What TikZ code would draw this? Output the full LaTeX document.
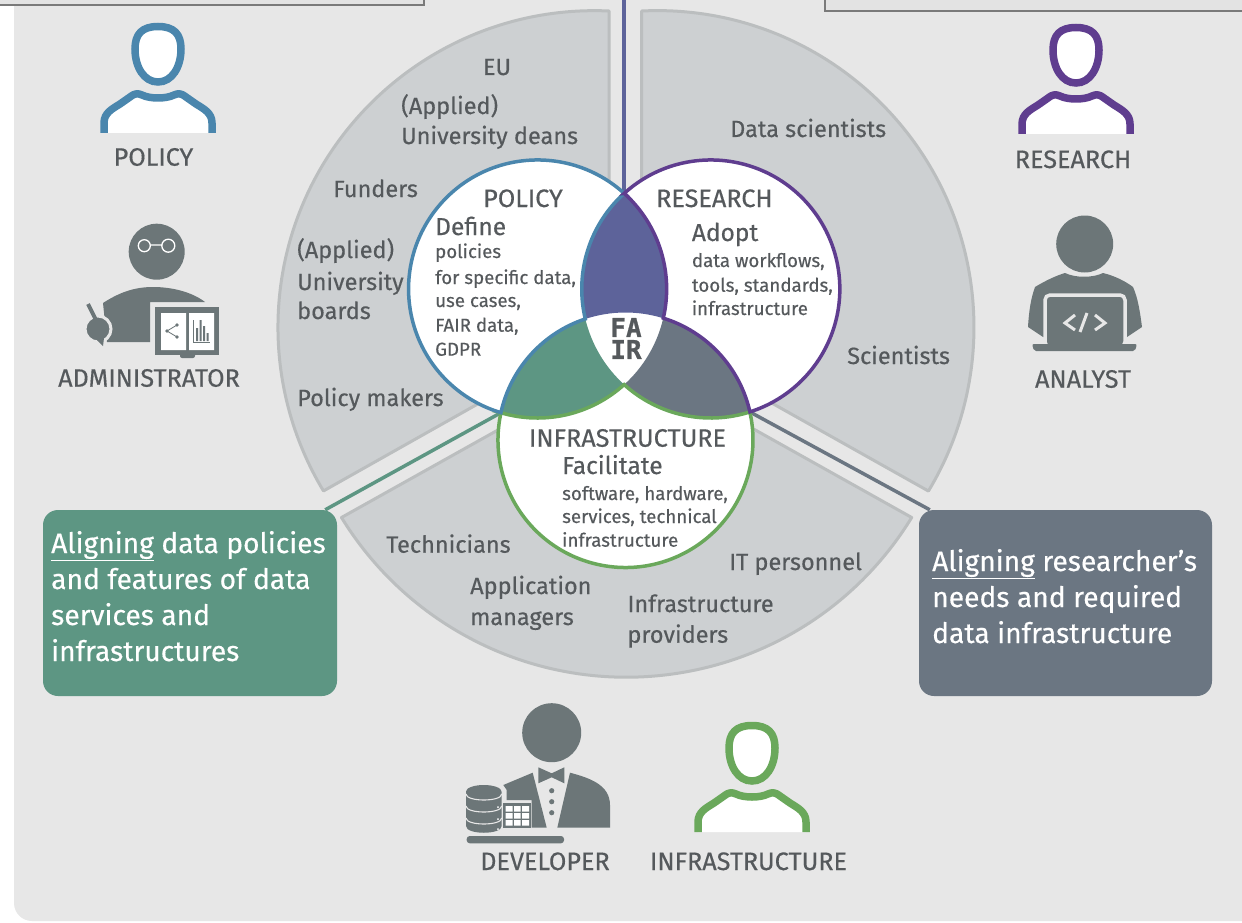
\documentclass[tikz,border=0pt]{standalone}
\usepackage{fontspec}
\setmainfont{Fira Sans}[FakeBold=0.4]
\newfontfamily\fairfont{DejaVu Sans Mono Bold}[FakeBold=0.8]
\usetikzlibrary{calc}
\definecolor{bgc}{HTML}{E7E7E7}
\definecolor{wedgef}{HTML}{CDD0D2}
\definecolor{wedged}{HTML}{BBBEBF}
\definecolor{txt}{HTML}{55595C}
\definecolor{icon}{HTML}{6C7678}
\definecolor{pblue}{HTML}{4A86AD}
\definecolor{ppurple}{HTML}{5F3D8F}
\definecolor{pgreen}{HTML}{6AA85B}
\definecolor{lensP}{HTML}{5D639A}
\definecolor{lensG}{HTML}{5D9683}
\definecolor{lensS}{HTML}{6B7682}
\newcommand{\fs}[1]{\fontsize{#1}{#1}\selectfont}
\tikzset{
  wedgeshape/.style={fill=wedgef,draw=wedged,line width=3pt,line join=round},
  lbl/.style={text=txt,inner sep=0pt,anchor=base west,font=\fs{23.5}},
  lblc/.style={lbl,anchor=base},
  caps/.style={lbl,font=\fs{25.2}},
  capsc/.style={caps,anchor=base},
  small/.style={lbl,font=\fs{18.7}},
  mid/.style={lbl,font=\fs{24.5}},
  boxt/.style={text=white,inner sep=0pt,anchor=base west,font=\fs{28.2}},
  pathway/.style={line width=3.5pt,line join=miter},
  alignbox/.style={rounded corners=15pt,inner sep=0pt,minimum width=#1},
  topbox/.style={fill=black!11,draw=black!52,line width=2pt},
  personicon/.pic={
    \path[fill=white] (-54,0) -- (-54,-10) .. controls (-54,-20) and (-46,-24) .. (-38,-29) -- (-28,-36) .. controls (-24,-39.5) and (-20,-40) .. (-16,-38) .. controls (-8,-34) and (8,-34) .. (16,-38) .. controls (20,-40) and (24,-39.5) .. (28,-36) -- (38,-29) .. controls (46,-24) and (54,-20) .. (54,-10) -- (54,0) -- cycle;
    \draw[line width=7.5pt,line join=round,pic actions] (-54,0) -- (-54,-10) .. controls (-54,-20) and (-46,-24) .. (-38,-29) -- (-28,-36) .. controls (-24,-39.5) and (-20,-40) .. (-16,-38) .. controls (-8,-34) and (8,-34) .. (16,-38) .. controls (20,-40) and (24,-39.5) .. (28,-36) -- (38,-29) .. controls (46,-24) and (54,-20) .. (54,-10) -- (54,0);
    \draw[line width=7.5pt,fill=white,pic actions] (0,-106.5) .. controls (16,-106.5) and (23,-99) .. (23,-84) .. controls (23,-66) and (14,-51) .. (0,-51) .. controls (-14,-51) and (-23,-66) .. (-23,-84) .. controls (-23,-99) and (-16,-106.5) .. (0,-106.5) -- cycle;
  }
}
\begin{document}
\begin{tikzpicture}[x=1pt,y=1pt,yscale=-1]
\useasboundingbox (0,0) rectangle (1242,923);
\fill[white] (0,0) rectangle (1242,923);
\fill[bgc,rounded corners=18pt] (14,-40) rectangle (1300,921);
% top boxes
\draw[topbox] (-5,-10) rectangle (424,5.5);
\draw[topbox] (825,-10) rectangle (1250,11.5);
% outer wedges
\draw[wedgeshape] (609,11) arc[start angle=-87.4,end angle=-211.1,radius=316.7] -- (609,330) -- cycle;
\draw[wedgeshape] (641.7,11) arc[start angle=-92.8,end angle=31.1,radius=316.8] -- (641.7,330) -- cycle;
\draw[wedgeshape] (911.7,517.5) arc[start angle=31.5,end angle=148.5,radius=334.4] -- (626.7,358) -- cycle;
% Venn junctions
\coordinate (J1) at (624.2,193.4);
\coordinate (J2) at (500.96,412.69);
\coordinate (J3) at (749.88,411.94);
\coordinate (Tl) at (585.34,319);
\coordinate (Tr) at (663.24,318.21);
\coordinate (Bo) at (624.2,384.6);
\coordinate (topend) at (624.2,-2);
% boxes
\node[alignbox=294pt,minimum height=186pt,fill=lensG] (gbox) at (190,603) {};
\node[alignbox=293pt,minimum height=186pt,fill=lensS] (sbox) at (1065.5,603) {};
\coordinate (gend) at ($(gbox.north east)+(-12,0)$);
\coordinate (send) at ($(sbox.north west)+(11,0)$);
% connectors
\draw[lensP,line width=3.5pt] (J1) -- (topend);
\draw[lensG,line width=3.5pt] (J2) -- (gend);
\draw[lensS,line width=3.5pt] (J3) -- (send);
% Venn fills
\fill[white] (537.6,289) circle[radius=129];
\fill[white] (710.8,289) circle[radius=129];
\fill[white] (625.5,440) circle[radius=127.5];
\fill[lensP] (Tl) arc[start angle=166.55,end angle=227.8,radius=129] arc[start angle=-47.8,end angle=13.09,radius=129] arc[start angle=-72.78,end angle=-108.36,radius=127.5] -- cycle;
\fill[lensG] (J2) arc[start angle=192.37,end angle=251.64,radius=127.5] arc[start angle=166.55,end angle=132.2,radius=129] arc[start angle=47.8,end angle=106.5,radius=129] -- cycle;
\fill[lensS] (J3) arc[start angle=-12.71,end angle=-72.78,radius=127.5] arc[start angle=13.09,end angle=47.8,radius=129] arc[start angle=132.2,end angle=72.37,radius=129] -- cycle;
% Venn outlines
\draw[pgreen,pathway] (J2) arc[start angle=192.37,end angle=-12.71,radius=127.5] arc[start angle=72.37,end angle=132.2,radius=129] arc[start angle=47.8,end angle=106.5,radius=129] -- cycle;
\draw[pblue,pathway] (J1) arc[start angle=-47.8,end angle=-253.5,radius=129] arc[start angle=192.37,end angle=251.64,radius=127.5] arc[start angle=166.55,end angle=227.8,radius=129] -- cycle;
\draw[ppurple,pathway] (J1) arc[start angle=-132.2,end angle=72.37,radius=129] arc[start angle=-12.71,end angle=-72.78,radius=127.5] arc[start angle=13.09,end angle=-47.8,radius=129] -- cycle;
% FAIR
\node[text=txt,font=\fairfont\fontsize{26}{22}\selectfont,align=center,inner sep=0pt] (fair) at (626,338.5) {FA\\IR};
% wedge texts
\node[lblc] (t1) at (497,75) {EU};
\node[lbl] (t2) at (401,114) {(Applied)};
\node[lbl] (t3) at (401,144) {University deans};
\node[lbl] (t4) at (333,197) {Funders};
\node[lbl] (t5) at (297,258) {(Applied)};
\node[lbl] (t6) at (297,290) {University};
\node[lbl] (t7) at (297,319) {boards};
\node[lbl] (t8) at (297,406) {Policy makers};
\node[lbl] (t9) at (730,137) {Data scientists};
\node[lbl] (t10) at (847,364) {Scientists};
\node[lbl] (t11) at (386,552.7) {Technicians};
\node[lbl] (t12) at (470,594) {Application};
\node[lbl] (t13) at (470,625) {managers};
\node[lbl] (t14) at (627.3,612) {Infrastructure};
\node[lbl] (t15) at (627.3,642.7) {providers};
\node[lbl] (t16) at (729,570) {IT personnel};
% circle texts
\node[capsc] (c1) at (523,207) {POLICY};
\node[mid] (c2) at (435,235) {Define};
\node[small] (c3) at (435,258) {policies};
\node[small] (c4) at (435,284) {for specific data,};
\node[small] (c5) at (435,307) {use cases,};
\node[small] (c6) at (435,331.7) {FAIR data,};
\node[small] (c7) at (435,355.7) {GDPR};
\node[caps] (c8) at (656,207) {RESEARCH};
\node[mid] (c9) at (691.7,241) {Adopt};
\node[small] (c10) at (691.7,267) {data workflows,};
\node[small] (c11) at (691.7,291.7) {tools, standards,};
\node[small] (c12) at (691.7,315) {infrastructure};
\node[capsc] (c13) at (627.5,446.7) {INFRASTRUCTURE};
\node[mid] (c14) at (562,474) {Facilitate};
\node[small] (c15) at (562,500) {software, hardware,};
\node[small] (c16) at (562,523) {services, technical};
\node[small] (c17) at (562,546.7) {infrastructure};
% box texts
\node[boxt] (g1) at (51,553) {\underline{Aligning} data policies};
\node[boxt] (g2) at (51,589) {and features of data};
\node[boxt] (g3) at (51,625) {services and};
\node[boxt] (g4) at (51,661) {infrastructures};
\node[boxt] (s1) at (932,571) {\underline{Aligning} researcher’s};
\node[boxt] (s2) at (932,607) {needs and required};
\node[boxt] (s3) at (932,643) {data infrastructure};
% persons
\pic[draw=pblue,yscale=-1] at (158,133) {personicon};
\pic[draw=ppurple,yscale=-1] at (1076,134) {personicon};
\pic[draw=pgreen,yscale=-1] at (752,832) {personicon};
% icon labels
\node[capsc] (l1) at (153.5,165.7) {POLICY};
\node[capsc] (l2) at (149,386.7) {ADMINISTRATOR};
\node[capsc] (l3) at (1073,168) {RESEARCH};
\node[capsc] (l4) at (1083,387.7) {ANALYST};
\node[capsc] (l5) at (545,870) {DEVELOPER};
\node[capsc] (l6) at (748.5,870) {INFRASTRUCTURE};
% administrator
\fill[icon] (156.7,251.7) circle[radius=28];
\draw[white,line width=1.3pt] (144.3,245.7) circle[radius=6] (168.3,245.7) circle[radius=6.5] (150.3,245) -- (161.8,245);
\fill[icon] (107,342) -- (103,303) .. controls (120,292) and (135,287) .. (153,287) .. controls (172,287) and (192,292) .. (205,302) -- (150,302) -- (150,342) -- cycle;
\draw[bgc,line width=3pt,fill=icon] (98,329) circle[radius=13];
\fill[icon] (97,340) -- (103,346) -- (104,338) -- cycle;
\draw[icon,line width=4pt] (88,304) -- (96,320);
\fill[icon] (155,307) rectangle (219,355);
\fill[icon,rounded corners=2pt] (180,352) rectangle (195,358);
\fill[white] (161,313) rectangle (186,350) (189,313) rectangle (214,350);
\fill[icon] (167,331) circle[radius=1.8] (177,325) circle[radius=1.8] (177,337) circle[radius=1.8];
\draw[icon,line width=.8pt] (177,325) -- (167,331) -- (177,337);
\draw[icon,line width=1pt] (193,320) -- (193,342) -- (210,342);
\fill[icon] (196,328) rectangle (198,341) (199.5,320) rectangle (201.5,341) (203,326) rectangle (205,341) (206.5,333) rectangle (208.5,341);
% analyst
\fill[icon] (1084.7,244) circle[radius=28.5];
\fill[icon] (1028,327) .. controls (1029,310) and (1031,298) .. (1035,287) .. controls (1045,281) and (1055,276) .. (1065,273) .. controls (1075,278) and (1093,278) .. (1103,273) .. controls (1115,276) and (1125,281) .. (1133,287) .. controls (1138,298) and (1140,312) .. (1142,327) -- (1127,337) -- (1043,337) -- cycle;
\draw[bgc,line width=3.5pt,fill=icon,rounded corners=5pt] (1045,295) -- (1125,295) -- (1125,347) -- (1045,347) -- cycle;
\fill[icon,rounded corners=2pt] (1032,344) -- (1137,344) -- (1135,351) -- (1034,351) -- cycle;
\draw[bgc,line width=3pt] (1075,315) -- (1065,323) -- (1075,330) (1080,332) -- (1087,313) (1095,315) -- (1105,323) -- (1095,330);
% developer
\fill[icon] (551.7,732.7) circle[radius=29.5];
\fill[icon] (538.3,767.3) -- (551.7,773.3) -- (564.3,767.3) -- (564.3,783.3) -- (551.7,777.3) -- (538.3,783.3) -- cycle;
\fill[icon] (570,772.7) .. controls (590,778) and (610,785) .. (610,805) -- (610,827.7) -- (557.3,827.7) -- cycle;
\fill[icon] (532.7,772.7) -- (546.7,827.7) -- (531.7,827.7) -- (531.7,800) -- (506.7,800) -- (506.7,790) -- (503.3,785) -- cycle;
\fill[icon] (551.7,790.7) circle[radius=2.6] (551.7,801.7) circle[radius=2.6] (551.7,812.7) circle[radius=2.6];
\fill[icon] (503.3,803.3) rectangle (531,827.7);
\fill[white] (505.5,806) rectangle (512.5,811.5) (514,806) rectangle (520.5,811.5) (522,806) rectangle (529,811.5)
  (505.5,813) rectangle (512.5,818.5) (514,813) rectangle (520.5,818.5) (522,813) rectangle (529,818.5)
  (505.5,820) rectangle (512.5,825.5) (514,820) rectangle (520.5,825.5) (522,820) rectangle (529,825.5);
\fill[icon] (466,792) -- (501.7,792) -- (501.7,826) .. controls (501.7,835) and (466,835) .. (466,826) -- cycle;
\fill[icon] (483.8,791.5) ellipse[x radius=17.8,y radius=6.5];
\draw[bgc,line width=1.1pt] (466,794) .. controls (466,802) and (501.7,802) .. (501.7,794);
\draw[bgc,line width=1.1pt] (466,806) .. controls (466,814) and (501.7,814) .. (501.7,806);
\draw[bgc,line width=1.1pt] (466,818) .. controls (466,826) and (501.7,826) .. (501.7,818);
\fill[white] (498,807) circle[radius=1] (498,819) circle[radius=1] (498,829) circle[radius=1];
\fill[icon,rounded corners=3pt] (466.7,836) rectangle (564,843.3);
\end{tikzpicture}
\end{document}
